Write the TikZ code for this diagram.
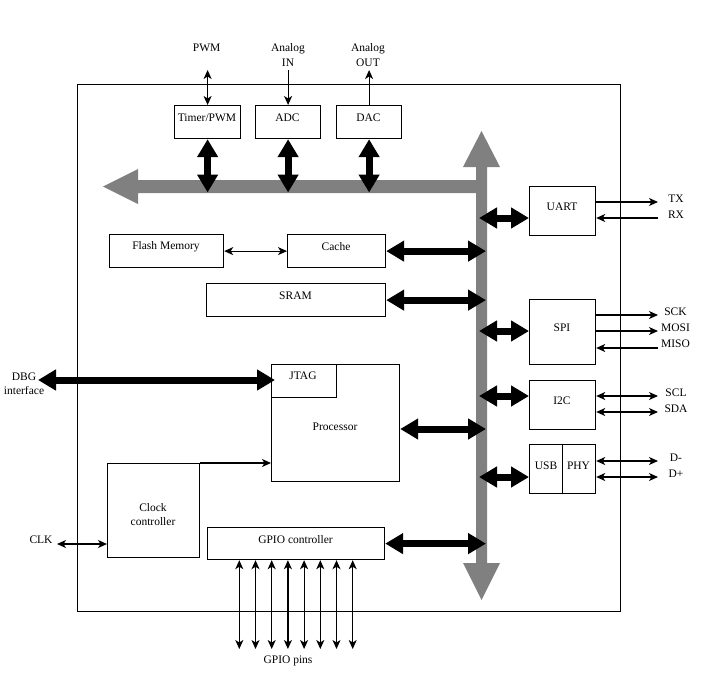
\documentclass[tikz,border=0pt]{standalone}
\usepackage{fontspec}
\setmainfont{Liberation Serif}
\usetikzlibrary{arrows.meta,calc}
\definecolor{busgray}{HTML}{808080}
\tikzset{
  box/.style={draw, line width=1.2pt, inner sep=0pt, anchor=north west},
  lbl/.style={font=\fontsize{11.5}{14.5}\selectfont, inner sep=0pt, align=center},
  bigarr/.style={line width=7pt, {Triangle[length=18pt,width=20pt]}-{Triangle[length=18pt,width=20pt]}},
  thinarr/.style={line width=1.2pt, -{Stealth[length=9pt,width=8pt,inset=2.5pt]}},
  thinboth/.style={line width=1.2pt, {Stealth[length=9pt,width=8pt,inset=2.5pt]}-{Stealth[length=9pt,width=8pt,inset=2.5pt]}},
}
\begin{document}
\begin{tikzpicture}[x=1pt,y=-1pt]
\useasboundingbox (0,0) rectangle (714,683);
% outer chip boundary
\node[box, minimum width=543pt, minimum height=527pt] (chip) at (77,84) {};
% gray bus
\fill[busgray] (476,167) -- (463,167) -- (481.5,131) -- (500,167) -- (487,167)
  -- (487,563) -- (500,563) -- (481.5,600) -- (463,563) -- (476,563)
  -- (476,193) -- (138,193) -- (138,204) -- (103,186.5) -- (138,169)
  -- (138,180) -- (476,180) -- cycle;
% boxes
\node[box, minimum width=66pt, minimum height=33pt] (timer) at (174,105) {};
\node[box, minimum width=65pt, minimum height=33pt] (adc) at (255,105) {};
\node[box, minimum width=65pt, minimum height=33pt] (dac) at (336,105) {};
\node[box, minimum width=66pt, minimum height=49pt] (uart) at (529,186) {};
\node[box, minimum width=66pt, minimum height=65pt] (spi) at (529,299) {};
\node[box, minimum width=66pt, minimum height=49pt] (i2c) at (529,380) {};
\node[box, minimum width=33pt, minimum height=49pt] (usb) at (529,444) {};
\node[box, minimum width=33pt, minimum height=49pt] (phy) at (562,444) {};
\node[box, minimum width=114pt, minimum height=33pt] (flash) at (109,234) {};
\node[box, minimum width=98pt, minimum height=33pt] (cache) at (287,234) {};
\node[box, minimum width=179pt, minimum height=33pt] (sram) at (206,283) {};
\node[box, minimum width=128pt, minimum height=117pt] (proc) at (271,364) {};
\node[box, minimum width=65pt, minimum height=33pt] (jtag) at (271,364) {};
\node[box, minimum width=92pt, minimum height=94pt] (clock) at (107,463) {};
\node[box, minimum width=177pt, minimum height=32pt] (gpio) at (207,527) {};
% box texts
\node[lbl] (t-timer) at (207,118) {Timer/PWM};
\node[lbl] (t-adc) at (287.5,118) {ADC};
\node[lbl] (t-dac) at (368.5,118) {DAC};
\node[lbl] (t-uart) at (562,207) {UART};
\node[lbl] (t-spi) at (562,328) {SPI};
\node[lbl] (t-i2c) at (562,401) {I2C};
\node[lbl] (t-usb) at (546,466) {USB};
\node[lbl] (t-phy) at (578.5,466) {PHY};
\node[lbl] (t-flash) at (166,247) {Flash Memory};
\node[lbl] (t-cache) at (336,247) {Cache};
\node[lbl] (t-sram) at (295.5,296) {SRAM};
\node[lbl] (t-proc) at (335,427) {Processor};
\node[lbl] (t-jtag) at (303,376) {JTAG};
\node[lbl] (t-clock) at (153,514.5) {Clock\\controller};
\node[lbl] (t-gpio) at (295.5,540) {GPIO controller};
% outside labels
\node[lbl] (l-pwm) at (206.7,48) {PWM};
\node[lbl] (l-ain) at (288,55) {Analog\\IN};
\node[lbl] (l-aout) at (368,55) {Analog\\OUT};
\node[lbl] (l-tx) at (676,199) {TX};
\node[lbl] (l-rx) at (676,215) {RX};
\node[lbl] (l-sck) at (675.5,312) {SCK};
\node[lbl] (l-mosi) at (675.5,328) {MOSI};
\node[lbl] (l-miso) at (675.5,344) {MISO};
\node[lbl] (l-scl) at (676,393) {SCL};
\node[lbl] (l-sda) at (676,409) {SDA};
\node[lbl] (l-dm) at (676,458) {D-};
\node[lbl] (l-dp) at (676,474) {D+};
\node[lbl] (l-dbg) at (24,383.5) {DBG\\interface};
\node[lbl] (l-clk) at (41,540) {CLK};
\node[lbl] (l-gpio) at (288,661) {GPIO pins};
% helper coordinates
\coordinate (hbusbot) at (0,192.5);
\coordinate (vbusR) at (486,0);
\coordinate (topend) at (0,70);
\coordinate (sigend) at (658,0);
\coordinate (uartbus) at (479,218);
\coordinate (spibus) at (479,331);
\coordinate (i2cbus) at (479,396);
\coordinate (usbbus) at (479,477);
\coordinate (procbus) at (486,429);
\coordinate (dbgend) at (38,380);
\coordinate (dbgtip) at (275,380);
\coordinate (clkend) at (57,544);
\coordinate (tx) at (658,202);
\coordinate (rx) at (658,218);
\coordinate (sck) at (658,315);
\coordinate (mosi) at (658,331);
\coordinate (miso) at (658,348);
\coordinate (scl) at (658,396);
\coordinate (sda) at (658,412);
\coordinate (dm) at (658,461);
\coordinate (dp) at (658,477);
% thick bus connectors
\draw[bigarr] (timer.south) -- (timer.south |- hbusbot);
\draw[bigarr] (adc.south) -- (adc.south |- hbusbot);
\draw[bigarr] (dac.south) -- (dac.south |- hbusbot);
\draw[bigarr] (cache.east) -- (cache.east -| vbusR);
\draw[bigarr] (sram.east) -- (sram.east -| vbusR);
\draw[bigarr] (proc.east |- procbus) -- (procbus);
\draw[bigarr] (gpio.east) -- (gpio.east -| vbusR);
\draw[bigarr] (uartbus) -- (uartbus -| uart.west);
\draw[bigarr] (spibus) -- (spibus -| spi.west);
\draw[bigarr] (i2cbus) -- (i2cbus -| i2c.west);
\draw[bigarr] (usbbus) -- (usbbus -| usb.west);
\draw[bigarr] (dbgend) -- (dbgtip);
% thin connectors
\draw[thinboth] (timer.north |- topend) -- (timer.north);
\draw[thinarr] (adc.north |- topend) -- (adc.north);
\draw[thinarr] (dac.north) -- (dac.north |- topend);
\draw[thinboth] (flash.east) -- (cache.west);
\draw[thinarr] (clock.north east) -- (clock.north east -| proc.west);
\draw[thinboth] (clkend) -- (clkend -| clock.west);
\draw[thinarr] (tx -| uart.east) -- (tx);
\draw[thinarr] (rx) -- (rx -| uart.east);
\draw[thinarr] (sck -| spi.east) -- (sck);
\draw[thinarr] (mosi -| spi.east) -- (mosi);
\draw[thinarr] (miso) -- (miso -| spi.east);
\draw[thinboth] (scl -| i2c.east) -- (scl);
\draw[thinboth] (sda -| i2c.east) -- (sda);
\draw[thinboth] (dm -| phy.east) -- (dm);
\draw[thinboth] (dp -| phy.east) -- (dp);
\foreach \i in {0,...,7} {
  \coordinate (pin\i) at ({239.3+16.2*\i},649);
  \draw[thinboth] (pin\i) -- (pin\i |- gpio.south);
}
\end{tikzpicture}
\end{document}
